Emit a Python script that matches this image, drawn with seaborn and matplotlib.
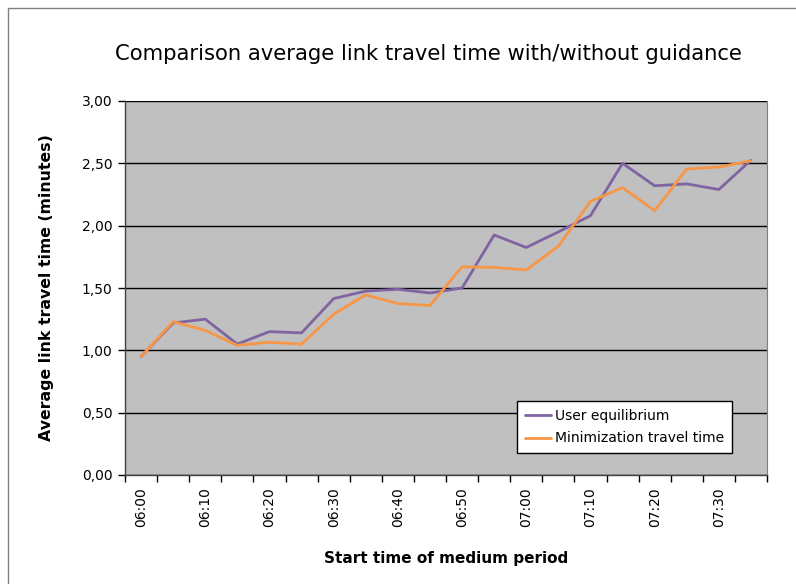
import matplotlib
matplotlib.use("Agg")
import matplotlib.pyplot as plt
from matplotlib.patches import Rectangle
from matplotlib.ticker import FixedLocator, FuncFormatter
import seaborn as sns
import pandas as pd
import numpy as np

times = ["06:00", "06:05", "06:10", "06:15", "06:20", "06:25", "06:30", "06:35",
         "06:40", "06:45", "06:50", "06:55", "07:00", "07:05", "07:10", "07:15",
         "07:20", "07:25", "07:30", "07:35"]
user_eq = [0.95, 1.22, 1.25, 1.05, 1.15, 1.14, 1.415, 1.475, 1.49, 1.46, 1.50,
           1.925, 1.825, 1.95, 2.08, 2.50, 2.32, 2.335, 2.29, 2.525]
min_tt = [0.95, 1.23, 1.16, 1.04, 1.065, 1.05, 1.29, 1.445, 1.375, 1.36, 1.67,
          1.665, 1.645, 1.835, 2.195, 2.305, 2.12, 2.455, 2.47, 2.52]
series_names = ["User equilibrium", "Minimization travel time"]
colors = ["#8064A2", "#F79646"]

df = pd.DataFrame({
    "idx": list(range(len(times))) * 2,
    "value": user_eq + min_tt,
    "series": [series_names[0]] * len(times) + [series_names[1]] * len(times),
})

sns.set_style("white")
plt.rcParams["font.family"] = ["DejaVu Sans"]
plt.rcParams["text.color"] = "black"
plt.rcParams["axes.labelcolor"] = "black"
plt.rcParams["xtick.color"] = "black"
plt.rcParams["ytick.color"] = "black"

fig = plt.figure(figsize=(7.96, 5.84), dpi=100)
fig.patch.set_facecolor("white")
# chart border
fig.patches.append(Rectangle((8 / 796, -0.1), 1.2, 1 - 8 / 584 + 0.1,
                             transform=fig.transFigure, fill=False,
                             edgecolor="#808080", linewidth=1.0))

ax = fig.add_axes([125 / 796, 1 - 475 / 584, 642 / 796, 374 / 584])
ax.set_facecolor("#C0C0C0")

sns.lineplot(data=df, x="idx", y="value", hue="series", palette=colors,
             linewidth=2.0, ax=ax, legend=True)

ax.set_xlim(-0.5, len(times) - 0.5)
ax.set_ylim(0, 3.0)
ax.set_yticks(np.arange(0, 3.01, 0.5))
ax.yaxis.set_major_formatter(FuncFormatter(lambda v, p: f"{v:.2f}".replace(".", ",")))
ax.grid(axis="y", color="black", linewidth=1.0)
ax.set_axisbelow(True)

# category boundary ticks, labels every other category
ax.xaxis.set_major_locator(FixedLocator(np.arange(-0.5, len(times) + 0.5, 1.0)))
ax.xaxis.set_major_formatter(FuncFormatter(lambda v, p: ""))
lab_pos = list(range(0, len(times), 2))
ax.xaxis.set_minor_locator(FixedLocator(lab_pos))
ax.xaxis.set_minor_formatter(FuncFormatter(lambda v, p: times[int(round(v))]))
ax.tick_params(axis="x", which="major", direction="out", length=5, width=1, color="black")
ax.tick_params(axis="x", which="minor", length=0, labelsize=10, rotation=90, pad=9)
ax.tick_params(axis="y", direction="out", length=5, width=1, color="black", labelsize=10, pad=4)
ax.xaxis.set_tick_params(bottom=True)
ax.yaxis.set_tick_params(left=True)

for side in ["left", "bottom"]:
    ax.spines[side].set_color("#404040")
    ax.spines[side].set_linewidth(1.0)
ax.spines["right"].set_color("#808080")
ax.spines["top"].set_visible(False)

ax.set_xlabel("Start time of medium period", fontsize=11, fontweight="bold", labelpad=17)
ax.set_ylabel("Average link travel time (minutes)", fontsize=11.3, fontweight="bold", labelpad=20)

fig.text(428 / 796, 1 - 54 / 584, "Comparison average link travel time with/without guidance",
         ha="center", va="center", fontsize=15.2)

leg = ax.legend(loc="lower left", bbox_to_anchor=((517 - 125) / 642, (475 - 453) / 374),
                frameon=True, fancybox=False, fontsize=10, handlelength=1.9,
                handletextpad=0.3, borderpad=0.55, labelspacing=0.6, title=None,
                framealpha=1.0, borderaxespad=0.0)
leg.get_frame().set_edgecolor("black")
leg.get_frame().set_facecolor("white")
leg.get_frame().set_linewidth(1.0)
for line in leg.get_lines():
    line.set_linewidth(2.0)

fig.savefig("out.png", dpi=100)
